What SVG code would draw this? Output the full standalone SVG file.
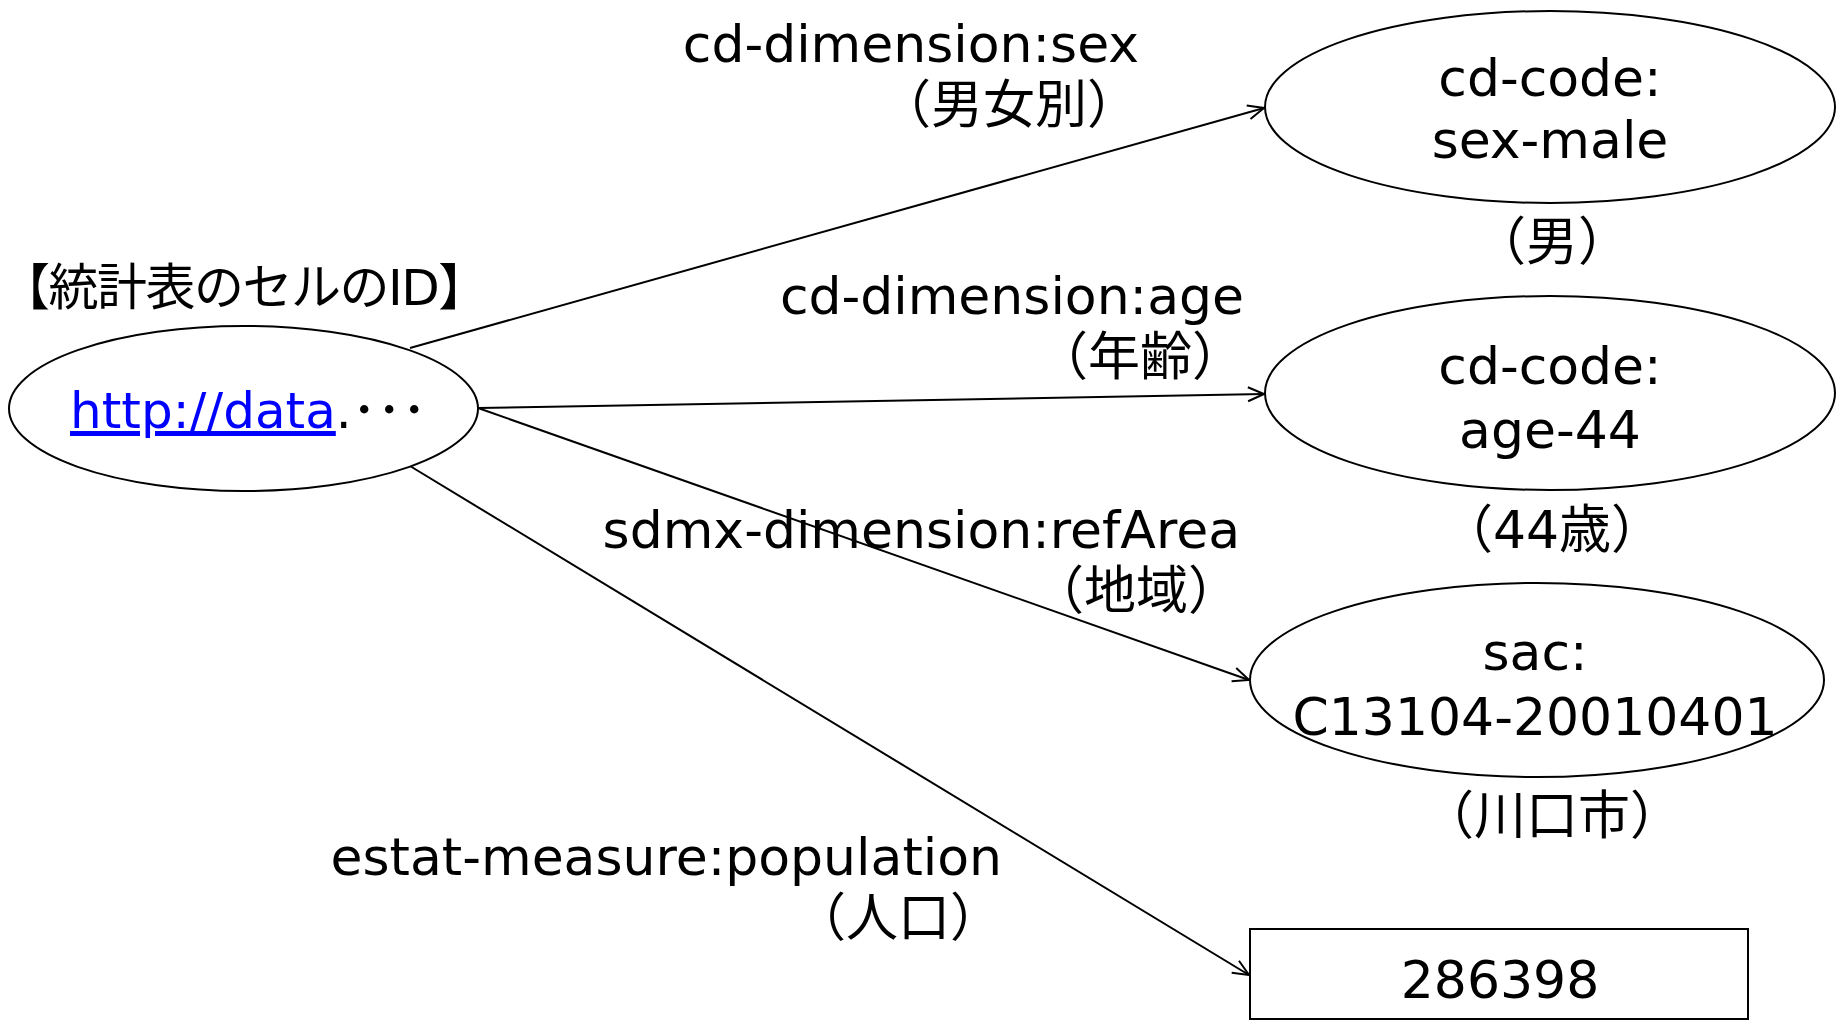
<svg xmlns="http://www.w3.org/2000/svg" width="1837" height="1021" viewBox="0 0 1837 1021">
<defs>
<style>
text{font-family:"DejaVu Sans","Noto Sans CJK JP",sans-serif;font-size:52px;fill:#000}
.shape{fill:#fff;stroke:#000;stroke-width:2}
.edge{fill:none;stroke:#000;stroke-width:2;marker-end:url(#arr)}
.mid{text-anchor:middle}
.end{text-anchor:end}
</style>
<marker id="arr" viewBox="0 0 20 20" refX="18" refY="10" markerWidth="20" markerHeight="20" markerUnits="userSpaceOnUse" orient="auto">
<path d="M2,3 L18,10 L2,17" fill="none" stroke="#000" stroke-width="2"/>
</marker>
</defs>
<rect width="1837" height="1021" fill="#fff"/>
<g id="connectors">
<line class="edge" x1="410" y1="348" x2="1264" y2="108"/>
<line class="edge" x1="478" y1="408" x2="1264" y2="394"/>
<line class="edge" x1="478" y1="408" x2="1249" y2="680"/>
<line class="edge" x1="410" y1="466" x2="1249" y2="975"/>
</g>
<g id="edge-labels">
<text class="end" x="1139" y="62">cd-dimension:sex</text>
<text class="end" x="1139" y="123">（男女別）</text>
<text class="end" x="1244" y="314">cd-dimension:age</text>
<text class="end" x="1244" y="375">（年齢）</text>
<text class="end" x="1240" y="548">sdmx-dimension:refArea</text>
<text class="end" x="1240" y="609">（地域）</text>
<text class="end" x="1002" y="875">estat-measure:population</text>
<text class="end" x="1002" y="936">（人口）</text>
</g>
<g id="node-source">
<text x="0" y="305" style="font-size:50px;letter-spacing:-1.5px">【統計表のセルのID】</text>
<ellipse class="shape" cx="243.5" cy="408.5" rx="234.5" ry="82.5"/>
<text x="70" y="428" style="font-size:50px"><tspan fill="#0000ff" text-decoration="underline">http://data</tspan>.･･･</text>
</g>
<g id="node-sex">
<ellipse class="shape" cx="1550" cy="107" rx="285" ry="96"/>
<text class="mid" x="1550" y="96">cd-code:</text>
<text class="mid" x="1550" y="158">sex-male</text>
<text class="mid" x="1552" y="260">（男）</text>
</g>
<g id="node-age">
<ellipse class="shape" cx="1550" cy="393" rx="285" ry="97"/>
<text class="mid" x="1550" y="384">cd-code:</text>
<text class="mid" x="1550" y="448">age-44</text>
<text class="mid" x="1552" y="548">（44歳）</text>
</g>
<g id="node-area">
<ellipse class="shape" cx="1537" cy="680" rx="287" ry="97"/>
<text class="mid" x="1535" y="670">sac:</text>
<text class="mid" x="1535" y="735">C13104-20010401</text>
<text class="mid" x="1552" y="834">（川口市）</text>
</g>
<g id="node-value">
<rect class="shape" x="1250" y="929" width="498" height="90"/>
<text class="mid" x="1500" y="998">286398</text>
</g>
</svg>
